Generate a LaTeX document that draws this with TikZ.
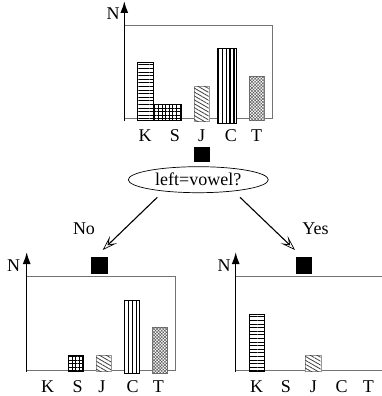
\documentclass[tikz,border=0pt]{standalone}
\usepackage{fontspec}
\setmainfont{Liberation Serif}
\usetikzlibrary{arrows.meta,shapes.geometric,patterns,patterns.meta}
\begin{document}
\begin{tikzpicture}[x=1pt,y=-1pt,
  frame/.style={draw=black!55, line width=1pt},
  yaxis/.style={line width=1.5pt,-{Latex[length=12pt,width=8pt]}},
  lbl/.style={font=\fontsize{18}{20}\selectfont, inner sep=0pt, anchor=base},
  sq/.style={fill=black, draw=none, inner sep=0pt, minimum width=16.5pt, minimum height=16.5pt},
  kbar/.style={draw=black, line width=0.8pt, fill=white, postaction={pattern={Lines[angle=0,distance=3.6pt,line width=0.9pt]}}},
  sbar/.style={draw=black, line width=0.8pt, fill=white, postaction={pattern={Hatch[angle=0,distance=3.6pt,line width=0.7pt]}}},
  jbar/.style={draw=black!40, line width=0.4pt, fill=white, postaction={pattern={Lines[angle=-30,distance=3.4pt,line width=0.8pt]}, pattern color=black!75}},
  cbar/.style={draw=black, line width=1pt, fill=white, postaction={pattern={Lines[angle=90,distance=3.9pt,line width=1.3pt]}}},
  tbar/.style={draw=black!50, line width=0.6pt, fill=white, postaction={pattern={Hatch[angle=45,distance=2.2pt,line width=0.5pt]}, pattern color=black!65}},
  decide/.style={ellipse, draw, line width=0.7pt, minimum width=140pt, minimum height=26pt, inner sep=0pt, font=\fontsize{18}{20}\selectfont},
  branch/.style={line width=1.1pt, -{Stealth[open,length=15pt,width=10pt,inset=7pt,line width=0.7pt]}}]
\useasboundingbox (0,0) rectangle (382,396);

% ---------- top panel ----------
\draw[frame] (124.3,118.3) -- (272.7,118.3) -- (272.7,25.7) -- (124.3,25.7);
\draw[yaxis] (124.3,121) -- (124.3,1);
\node[lbl, anchor=center] (nT) at (113,13.7) {N};
\path[kbar] (137.7,62.7) rectangle (153.3,120.7);
\path[sbar] (153.3,104) rectangle (181.7,120.5);
\path[jbar] (194,86) rectangle (208.7,121.5);
\path[cbar] (217,49) rectangle (236.7,123);
\path[tbar] (249,76.7) rectangle (264.3,120.5);
\node[lbl] (kT) at (145,141.5) {K};
\node[lbl] (sT) at (175,141.5) {S};
\node[lbl] (jT) at (201.7,141.5) {J};
\node[lbl] (cT) at (231,141.5) {C};
\node[lbl] (tT) at (256.7,141.5) {T};
\node[sq, minimum height=15pt] (sqT) at (202,154.5) {};

% ---------- question ----------
\node[decide] (q) at (198.3,179.7) {left=vowel?};
\coordinate (ls) at (157.3,197.3);
\coordinate (le) at (102.7,250);
\coordinate (rs) at (240,197.3);
\coordinate (re) at (295,250);
\draw[branch] (ls) -- (le);
\draw[branch] (rs) -- (re);
\node[lbl, anchor=center] (no) at (84,228.7) {No};
\node[lbl, anchor=center] (yes) at (315.5,228.7) {Yes};

% ---------- bottom left panel ----------
\draw[frame] (26.7,370) -- (175.7,370) -- (175.7,276.7) -- (26.7,276.7);
\draw[yaxis] (26.7,372) -- (26.7,252);
\node[lbl, anchor=center] (nL) at (13.7,266) {N};
\node[sq] (sqL) at (99.7,265.3) {};
\path[sbar] (68.3,355) rectangle (83.3,371);
\path[jbar] (96,355) rectangle (111,371);
\path[cbar] (124,300) rectangle (139.3,373.3);
\path[tbar] (152.3,327.7) rectangle (167.7,373);
\node[lbl] (kL) at (47.7,392.7) {K};
\node[lbl] (sL) at (77.7,392.7) {S};
\node[lbl] (jL) at (102,392.7) {J};
\node[lbl] (cL) at (132.7,392.7) {C};
\node[lbl] (tL) at (158.3,392.7) {T};

% ---------- bottom right panel ----------
\draw[frame] (235.7,370) -- (382,370);
\draw[frame] (235.7,276.7) -- (382,276.7);
\draw[yaxis] (235.7,372) -- (235.7,252);
\node[lbl, anchor=center] (nR) at (224,266) {N};
\node[sq, minimum width=15.7pt] (sqR) at (303.8,265.3) {};
\path[kbar] (249.3,314) rectangle (264.3,371.7);
\path[jbar] (305,355) rectangle (320.7,371);
\node[lbl] (kR) at (256.7,392.7) {K};
\node[lbl] (sR) at (286,392.7) {S};
\node[lbl] (jR) at (313.3,392.7) {J};
\node[lbl] (cR) at (341.7,392.7) {C};
\node[lbl] (tR) at (368.3,392.7) {T};
\end{tikzpicture}
\end{document}
